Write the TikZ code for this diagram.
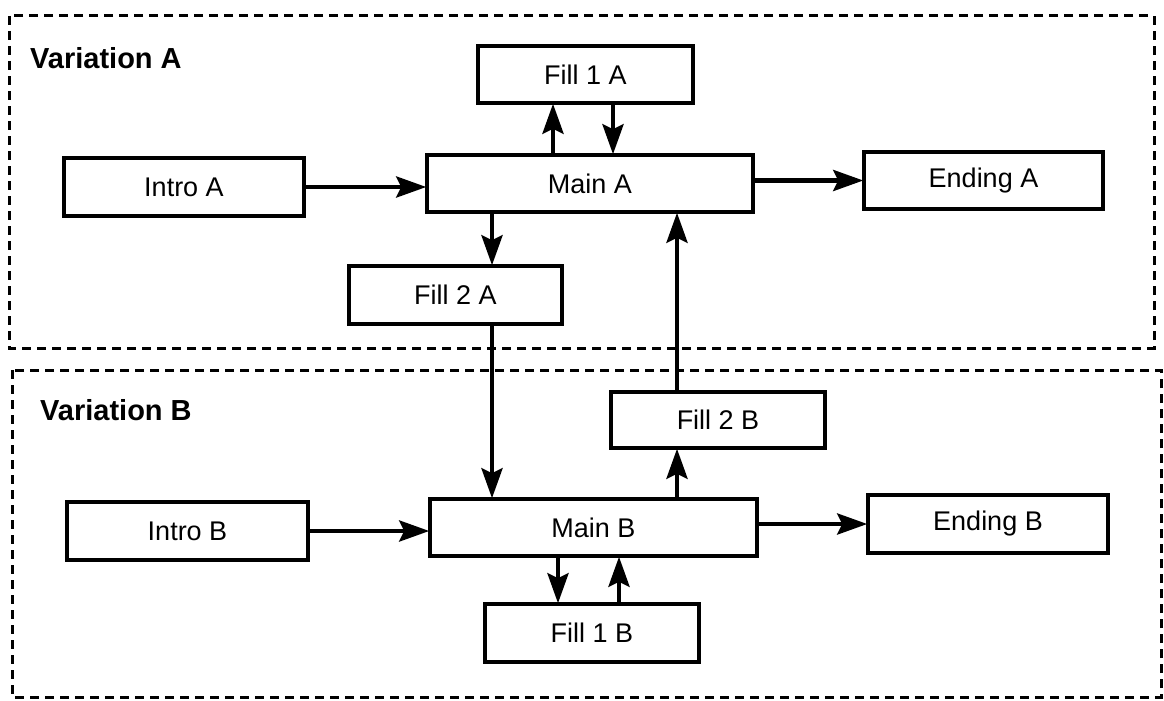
\documentclass[tikz,border=0pt]{standalone}
\usepackage{fontspec}
\setmainfont{Liberation Sans}
\usetikzlibrary{arrows.meta}
\begin{document}
\begin{tikzpicture}[x=1pt,y=-1pt,
  box/.style={draw, line width=3.5pt, inner sep=0pt, font=\fontsize{27}{32}\selectfont},
  grp/.style={draw, line width=3pt, dash pattern=on 9pt off 6pt},
  lbl/.style={anchor=base west, inner sep=0pt, font=\fontsize{29}{34}\selectfont\bfseries},
  arr/.style={line width=4.5pt, -{Stealth[length=30pt,width=21pt,inset=5pt]}, shorten >=-1pt}]
\useasboundingbox (0,0) rectangle (1164,701);
\fill[white] (0,0) rectangle (1164,701);
% groups
\draw[grp] (9,16) rectangle (1154,348);
\draw[grp] (12,370) rectangle (1161,697);
\node[lbl] (varA) at (30,68) {Variation A};
\node[lbl] (varB) at (40,420) {Variation B};
% boxes A
\node[box, minimum width=215pt, minimum height=57pt] (fill1A) at (585.5,74.5) {Fill 1 A};
\node[box, minimum width=326pt, minimum height=57pt] (mainA) at (590,183.5) {Main A};
\node[box, minimum width=240pt, minimum height=58pt] (introA) at (184,187) {Intro A};
\node[box, minimum width=239pt, minimum height=57pt] (endA) at (983.5,180.5) {Ending A};
\node[box, minimum width=213pt, minimum height=58pt] (fill2A) at (455.5,295) {Fill 2 A};
% boxes B
\node[box, minimum width=214pt, minimum height=56pt] (fill2B) at (718,420) {Fill 2 B};
\node[box, minimum width=241pt, minimum height=58pt] (introB) at (187.5,531) {Intro B};
\node[box, minimum width=327pt, minimum height=57pt] (mainB) at (593.5,527.5) {Main B};
\node[box, minimum width=240pt, minimum height=58pt] (endB) at (988,524) {Ending B};
\node[box, minimum width=214pt, minimum height=58pt] (fill1B) at (592,633) {Fill 1 B};
% x positions of vertical connectors
\coordinate (xa1) at (553,0);
\coordinate (xa2) at (613,0);
\coordinate (xf2) at (492,0);
\coordinate (xu) at (677,0);
\coordinate (xb1) at (558,0);
\coordinate (xb2) at (619,0);
% connectors A
\draw[arr] (introA.east) -- (introA.east -| mainA.west);
\draw[arr] (endA.west -| mainA.east) -- (endA.west);
\draw[arr] (mainA.north -| xa1) -- (fill1A.south -| xa1);
\draw[arr] (fill1A.south -| xa2) -- (mainA.north -| xa2);
\draw[arr] (mainA.south -| xf2) -- (fill2A.north -| xf2);
\draw[arr] (fill2A.south -| xf2) -- (mainB.north -| xf2);
\draw[arr] (fill2B.north -| xu) -- (mainA.south -| xu);
% connectors B
\draw[arr] (mainB.north -| xu) -- (fill2B.south -| xu);
\draw[arr] (introB.east) -- (introB.east -| mainB.west);
\draw[arr] (endB.west -| mainB.east) -- (endB.west);
\draw[arr] (mainB.south -| xb1) -- (fill1B.north -| xb1);
\draw[arr] (fill1B.north -| xb2) -- (mainB.south -| xb2);
\end{tikzpicture}
\end{document}
